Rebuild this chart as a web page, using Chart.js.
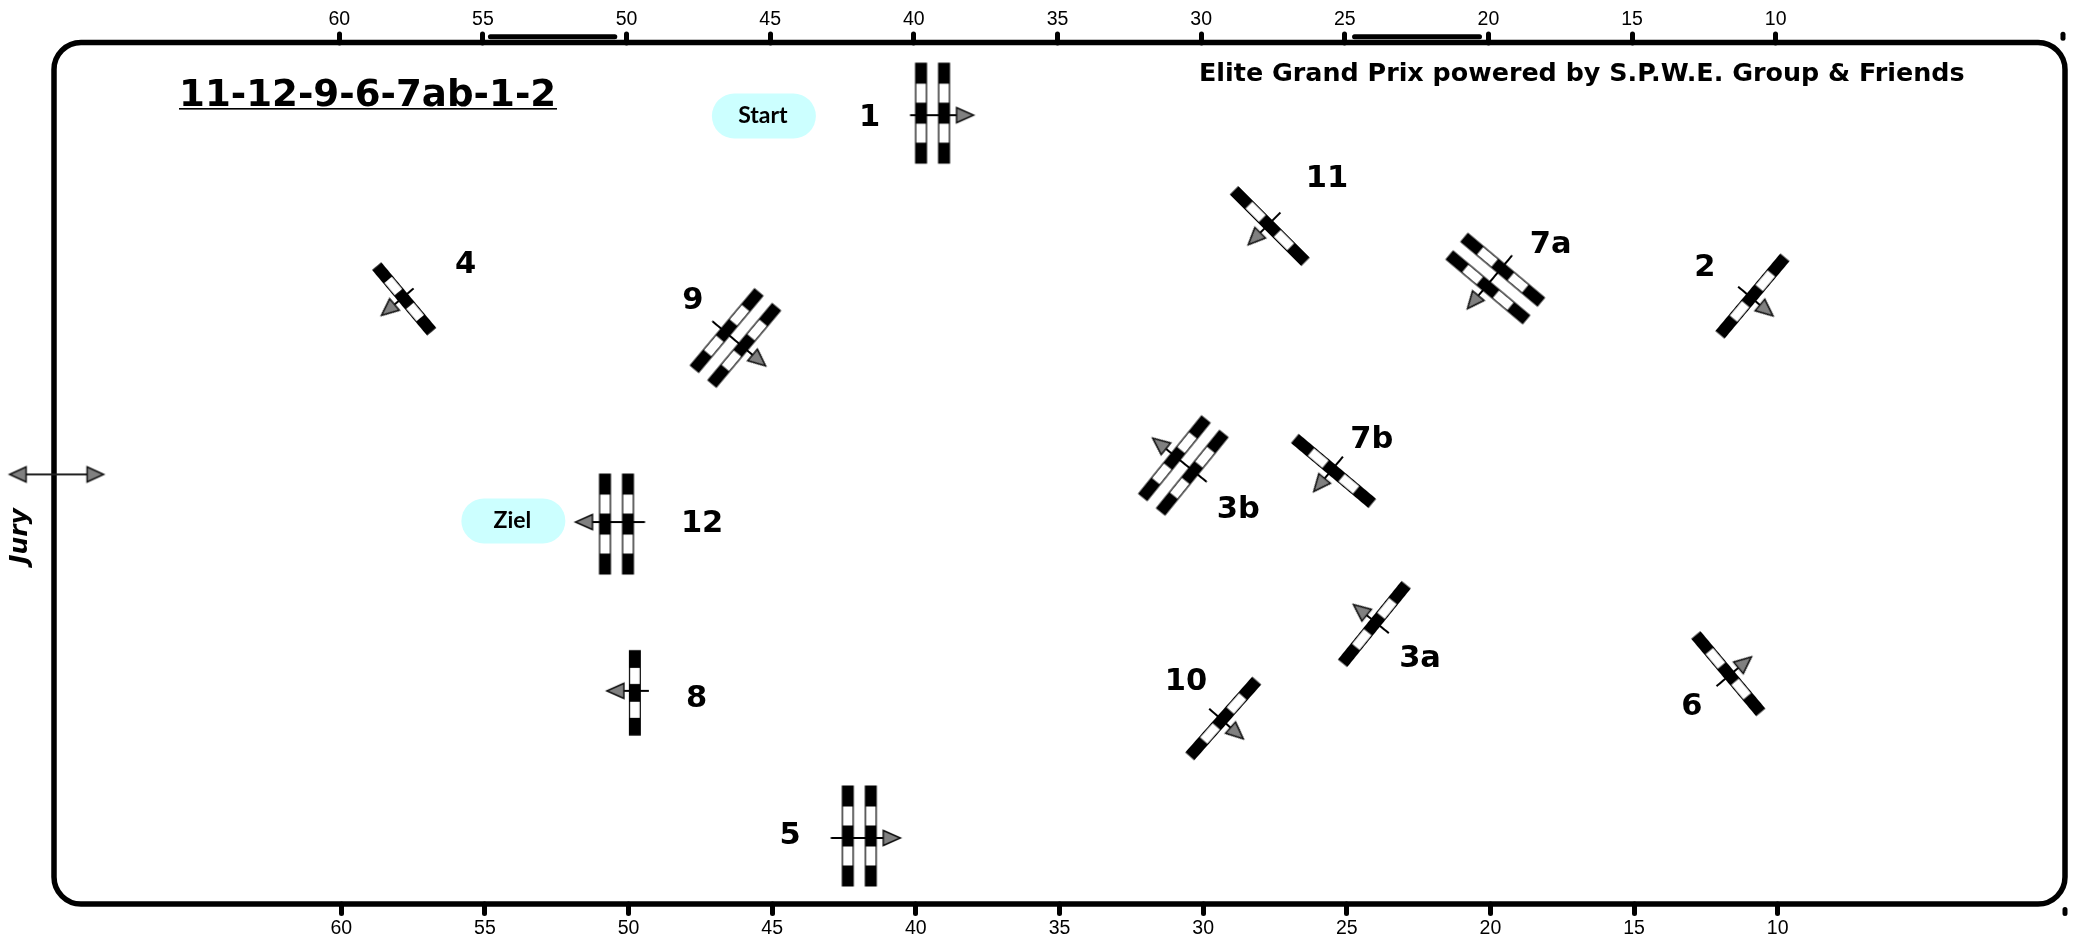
<!DOCTYPE html>
<html>
<head>
<meta charset="utf-8">
<style>html,body{margin:0;padding:0;background:#fff}#w{width:2073px;height:936px}</style>
<script src="https://cdn.jsdelivr.net/npm/chart.js@4"></script>
</head>
<body>
<div id="w"><canvas id="c" width="2073" height="936"></canvas></div>
<script>
// Arena scale ticks (metres)
const tickValues = [60, 55, 50, 45, 40, 35, 30, 25, 20, 15, 10, 0];
const hiddenTickLabels = [0];

// Obstacles (metres, degrees)
const gateNames = ['1', '2', '3a', '3b', '4', '5', '6', '7a', '7b', '8', '9', '10', '11', '12'];
const gateX = [39.42, 10.88, 24.04, 30.69, 57.81, 41.97, 11.72, 19.83, 25.46, 49.78, 46.28, 29.30, 27.68, 50.42];
const gateY = [27.54, 21.17, 9.75, 15.27, 21.07, 2.37, 8.02, 21.78, 15.08, 7.35, 19.71, 6.46, 23.61, 13.23];
const gateAngle = [0, 40, 219, 219, 140, 0, -40, 130, 130, 180, 40, 41.5, 135, 180];
const gateKind = ['oxerB', 'single', 'single', 'oxer', 'short', 'oxer', 'single', 'oxer', 'single', 'short', 'oxer', 'single', 'single', 'oxer'];

// Obstacle number labels (metres)
const labelX = [41.61, 12.54, 22.45, 28.78, 55.67, 44.38, 12.99, 17.90, 24.13, 47.63, 47.76, 30.60, 25.69, 47.44];
const labelY = [27.47, 22.23, 8.61, 13.81, 22.33, 2.44, 6.93, 23.03, 16.25, 7.22, 21.09, 7.80, 25.32, 13.30];

// Start / finish markers
const pillTexts = ['Start', 'Ziel'];
const pillX = [45.29, 54.01];
const pillY = [27.44, 13.34];

// Long side markers along the top edge
const sideBarA = [54.81, 50.48];
const sideBarB = [24.73, 20.38];
const sideBarLevel = 30.2;

// Corner marks at metre 0
const cornerTopX = [0.07, 0.07];
const cornerTopY = [30.15, 30.29];
const cornerBottomX = [0, 0];
const cornerBottomY = [-0.19, -0.33];

// Jury position
const juryX = [69.91];
const juryY = [14.96];

const titleText = '11-12-9-6-7ab-1-2';
const headerText = 'Elite Grand Prix powered by S.P.W.E. Group & Friends';

function sprite(draw) {
  const cv = document.createElement('canvas');
  cv.width = 180; cv.height = 180;
  const g = cv.getContext('2d');
  g.translate(90, 90);
  draw(g);
  return cv;
}
function pole(g, cx, len, w) {
  const black = len * 0.208, white = len * 0.188;
  g.fillStyle = '#000';
  g.fillRect(cx - w / 2, -len / 2, w, len);
  g.fillStyle = '#fff';
  g.fillRect(cx - w / 2 + 1.2, -len / 2 + black, w - 2.4, white);
  g.fillRect(cx - w / 2 + 1.2, -len / 2 + 2 * black + white, w - 2.4, white);
}
function head(g, base, tip) {
  g.beginPath();
  g.moveTo(tip, 0); g.lineTo(base, -7.5); g.lineTo(base, 7.5); g.closePath();
  g.fillStyle = '#808080'; g.fill();
  g.strokeStyle = '#111'; g.lineWidth = 1.5; g.lineJoin = 'miter'; g.stroke();
}
function gateSprite(offsets, len, tail, tip) {
  return sprite(g => {
    offsets.forEach(o => pole(g, o, len, 12));
    g.save();
    g.translate(0, 2);
    g.strokeStyle = '#000'; g.lineWidth = 2;
    g.beginPath(); g.moveTo(-tail, 0); g.lineTo(tip - 16, 0); g.stroke();
    head(g, tip - 17, tip);
    g.restore();
  });
}
const sprites = {
  oxer: gateSprite([-11.5, 11.5], 101, 28.5, 41),
  oxerB: gateSprite([-11.5, 11.5], 101, 22.5, 41),
  single: gateSprite([0], 101, 17, 28.5),
  short: gateSprite([0], 85.5, 14, 28)
};
const jurySprite = sprite(g => {
  g.strokeStyle = '#222'; g.lineWidth = 2;
  g.beginPath(); g.moveTo(-33, 0); g.lineTo(33, 0); g.stroke();
  g.scale(-1, 1); head(g, 30.5, 47);
  g.scale(-1, 1); head(g, 30.5, 47);
});

const arenaPlugin = {
  id: 'arena',
  beforeDraw(chart) { chart.ctx.lineCap = 'round'; },
  beforeDatasetsDraw(chart) {
    const { ctx, chartArea: a, scales: { x, y } } = chart;
    ctx.save();
    ctx.lineCap = 'butt';
    ctx.strokeStyle = '#000';
    ctx.lineWidth = 5.5;
    ctx.beginPath();
    ctx.roundRect(a.left, a.top, a.right - a.left, a.bottom - a.top, 27);
    ctx.stroke();
    pillTexts.forEach((t, i) => {
      const cx = x.getPixelForValue(pillX[i]), cy = y.getPixelForValue(pillY[i]);
      const w = 104, h = 45;
      ctx.fillStyle = '#ccffff';
      ctx.beginPath();
      ctx.roundRect(cx - w / 2, cy - h / 2, w, h, 22.5);
      ctx.fill();
      ctx.fillStyle = '#000';
      ctx.font = 'bold 23px Lato';
      ctx.textAlign = 'center';
      ctx.textBaseline = 'middle';
      ctx.fillText(t, cx - 1, cy);
    });
    ctx.restore();
  },
  afterDatasetsDraw(chart) {
    const { ctx, scales: { x, y } } = chart;
    ctx.save();
    ctx.lineCap = 'butt';
    ctx.fillStyle = '#000';
    ctx.textAlign = 'center';
    ctx.textBaseline = 'middle';
    ctx.font = 'bold 30.5px "DejaVu Sans"';
    gateNames.forEach((n, i) => {
      ctx.fillText(n, x.getPixelForValue(labelX[i]), y.getPixelForValue(labelY[i]) + 2.5);
    });
    ctx.textAlign = 'left';
    ctx.textBaseline = 'alphabetic';
    ctx.font = 'bold 37.2px "DejaVu Sans"';
    ctx.fillText(titleText, 179, 106);
    ctx.fillRect(179, 108, 378, 1.6);
    ctx.font = 'bold 25.4px "DejaVu Sans"';
    ctx.fillText(headerText, 1199, 81);
    ctx.save();
    ctx.translate(27, 536);
    ctx.rotate(-Math.PI / 2);
    ctx.textAlign = 'center';
    ctx.font = 'italic 600 25px "DejaVu Sans"';
    ctx.fillText('Jury', 0, 0);
    ctx.restore();
    ctx.restore();
  }
};

function xAxis(position, min, max, tickLength, padding, height) {
  return {
    type: 'linear', position, min, max, reverse: true, display: true,
    afterBuildTicks(s) { s.ticks = tickValues.map(v => ({ value: v })); },
    afterFit(s) { s.height = height; },
    border: { display: false },
    grid: {
      drawOnChartArea: false, drawTicks: true, tickLength, tickWidth: 5,
      tickColor: c => hiddenTickLabels.includes(c.tick.value) ? 'rgba(0,0,0,0)' : '#000'
    },
    ticks: {
      autoSkip: false, maxRotation: 0, minRotation: 0, padding, color: '#000',
      font: { family: '"Liberation Sans"', size: 19.5 },
      callback: v => hiddenTickLabels.includes(v) ? '' : String(v)
    }
  };
}
function strokeSet(label, xs, ys) {
  return {
    label, type: 'line', showLine: true, pointRadius: 0,
    data: xs.map((v, i) => ({ x: v, y: ys[i] })),
    borderColor: '#000', borderWidth: 5, borderCapStyle: 'round', clip: false
  };
}

new Chart(document.getElementById('c'), {
  type: 'scatter',
  plugins: [arenaPlugin],
  data: {
    datasets: [
      {
        label: 'Hindernisse',
        data: gateX.map((v, i) => ({ x: v, y: gateY[i] })),
        pointStyle: gateKind.map(k => sprites[k]),
        pointRotation: gateAngle,
        clip: false
      },
      {
        label: 'Jury',
        data: juryX.map((v, i) => ({ x: v, y: juryY[i] })),
        pointStyle: jurySprite,
        clip: false
      },
      strokeSet('Seite A', sideBarA, sideBarA.map(() => sideBarLevel)),
      strokeSet('Seite B', sideBarB, sideBarB.map(() => sideBarLevel)),
      strokeSet('Ecke oben', cornerTopX, cornerTopY),
      strokeSet('Ecke unten', cornerBottomX, cornerBottomY)
    ]
  },
  options: {
    responsive: false,
    animation: false,
    devicePixelRatio: 1,
    layout: { padding: { left: 54, right: 8, top: 0, bottom: 0 } },
    plugins: { legend: { display: false }, tooltip: { enabled: false }, title: { display: false } },
    scales: {
      x: xAxis('bottom', 0, 70, 9.5, 3, 32),
      x2: xAxis('top', -0.07, 69.93, 8.5, 3, 42.5),
      y: { type: 'linear', min: 0, max: 30, display: false }
    }
  }
});
</script>
</body>
</html>
